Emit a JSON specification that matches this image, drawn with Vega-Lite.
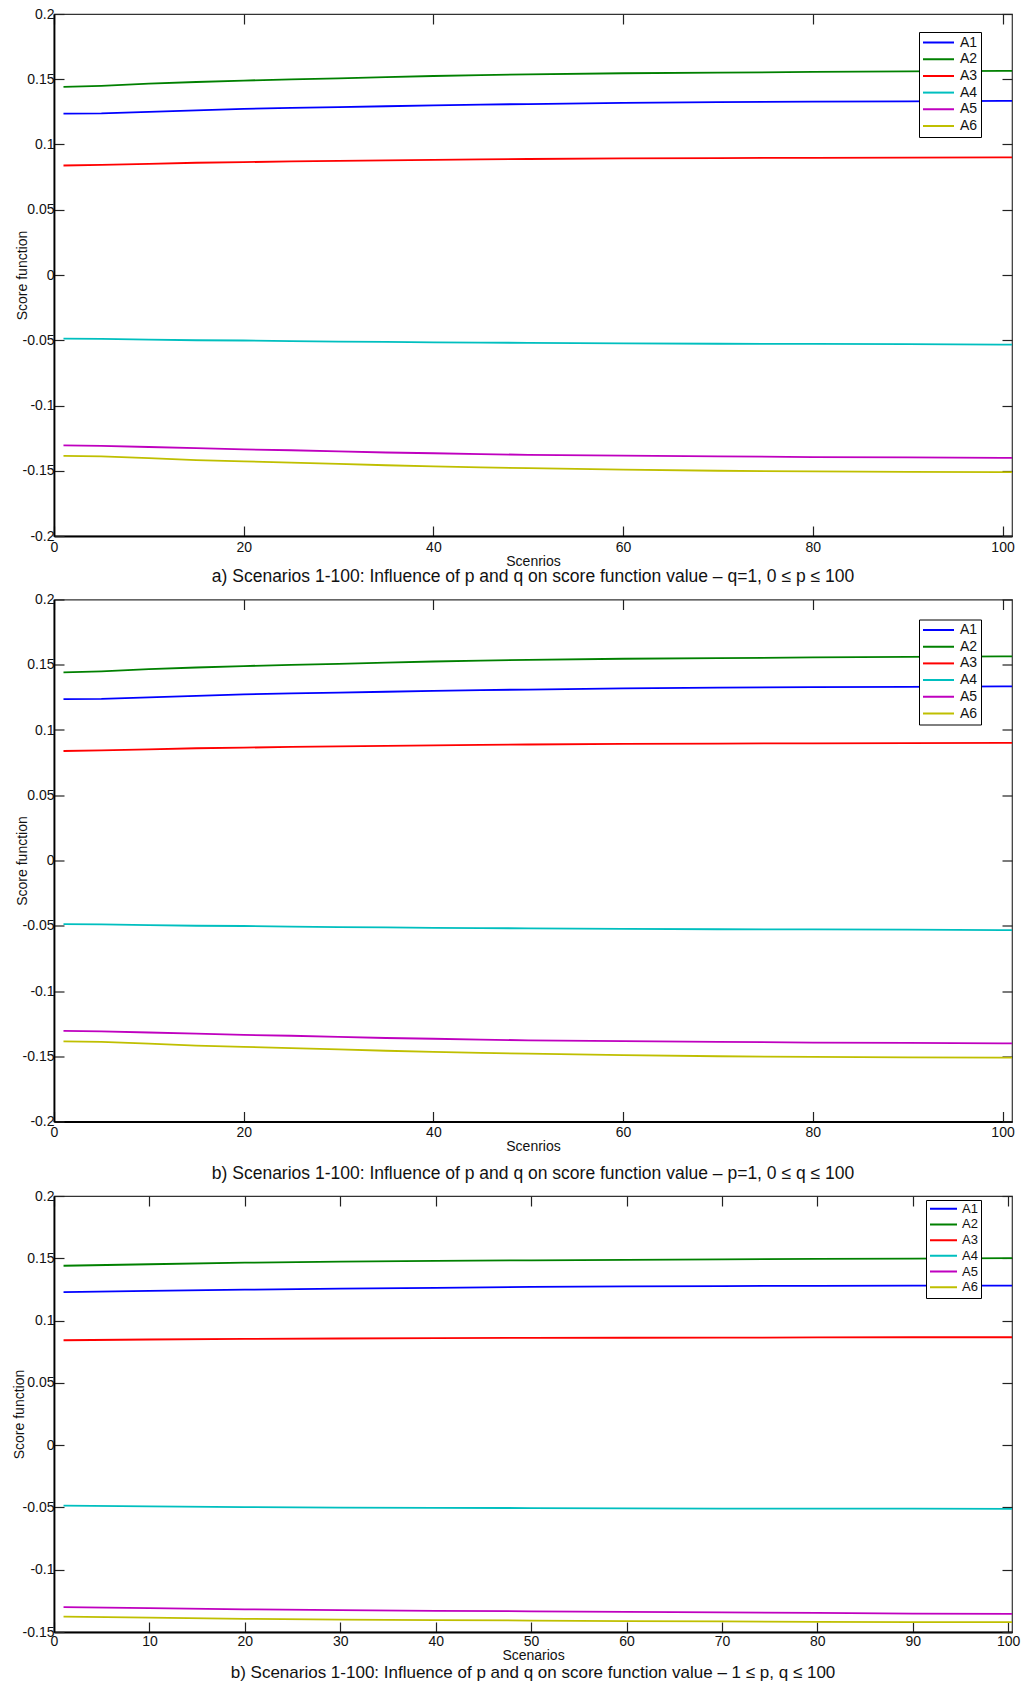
{
"$schema": "https://vega.github.io/schema/vega-lite/v6.json",
"padding": {"left": 11, "top": 6, "right": 5, "bottom": 0},
"spacing": 4.5,
"datasets": {
"ab": [
{"x":1,"s":"A1","v":0.1236},{"x":5,"s":"A1","v":0.1238},{"x":10,"s":"A1","v":0.1250},{"x":15,"s":"A1","v":0.1261},{"x":20,"s":"A1","v":0.1273},{"x":25,"s":"A1","v":0.1280},{"x":30,"s":"A1","v":0.1286},{"x":35,"s":"A1","v":0.1293},{"x":40,"s":"A1","v":0.1300},{"x":45,"s":"A1","v":0.1306},{"x":50,"s":"A1","v":0.1310},{"x":60,"s":"A1","v":0.1319},{"x":70,"s":"A1","v":0.1325},{"x":80,"s":"A1","v":0.1328},{"x":90,"s":"A1","v":0.1331},{"x":100,"s":"A1","v":0.1334},{"x":101,"s":"A1","v":0.1334},
{"x":1,"s":"A2","v":0.1441},{"x":5,"s":"A2","v":0.1449},{"x":10,"s":"A2","v":0.1466},{"x":15,"s":"A2","v":0.1479},{"x":20,"s":"A2","v":0.1490},{"x":25,"s":"A2","v":0.1499},{"x":30,"s":"A2","v":0.1507},{"x":35,"s":"A2","v":0.1517},{"x":40,"s":"A2","v":0.1525},{"x":45,"s":"A2","v":0.1532},{"x":50,"s":"A2","v":0.1538},{"x":60,"s":"A2","v":0.1546},{"x":70,"s":"A2","v":0.1551},{"x":80,"s":"A2","v":0.1556},{"x":90,"s":"A2","v":0.1560},{"x":100,"s":"A2","v":0.1564},{"x":101,"s":"A2","v":0.1564},
{"x":1,"s":"A3","v":0.0839},{"x":5,"s":"A3","v":0.0844},{"x":10,"s":"A3","v":0.0852},{"x":15,"s":"A3","v":0.0860},{"x":20,"s":"A3","v":0.0865},{"x":25,"s":"A3","v":0.0870},{"x":30,"s":"A3","v":0.0874},{"x":35,"s":"A3","v":0.0878},{"x":40,"s":"A3","v":0.0882},{"x":45,"s":"A3","v":0.0886},{"x":50,"s":"A3","v":0.0889},{"x":60,"s":"A3","v":0.0893},{"x":70,"s":"A3","v":0.0896},{"x":80,"s":"A3","v":0.0898},{"x":90,"s":"A3","v":0.0900},{"x":100,"s":"A3","v":0.0901},{"x":101,"s":"A3","v":0.0901},
{"x":1,"s":"A4","v":-0.0487},{"x":5,"s":"A4","v":-0.0489},{"x":10,"s":"A4","v":-0.0495},{"x":15,"s":"A4","v":-0.0500},{"x":20,"s":"A4","v":-0.0502},{"x":25,"s":"A4","v":-0.0506},{"x":30,"s":"A4","v":-0.0510},{"x":35,"s":"A4","v":-0.0513},{"x":40,"s":"A4","v":-0.0516},{"x":45,"s":"A4","v":-0.0518},{"x":50,"s":"A4","v":-0.0520},{"x":60,"s":"A4","v":-0.0524},{"x":70,"s":"A4","v":-0.0527},{"x":80,"s":"A4","v":-0.0528},{"x":90,"s":"A4","v":-0.0530},{"x":100,"s":"A4","v":-0.0534},{"x":101,"s":"A4","v":-0.0534},
{"x":1,"s":"A5","v":-0.1306},{"x":5,"s":"A5","v":-0.1310},{"x":10,"s":"A5","v":-0.1318},{"x":15,"s":"A5","v":-0.1327},{"x":20,"s":"A5","v":-0.1336},{"x":25,"s":"A5","v":-0.1343},{"x":30,"s":"A5","v":-0.1352},{"x":35,"s":"A5","v":-0.1360},{"x":40,"s":"A5","v":-0.1366},{"x":45,"s":"A5","v":-0.1372},{"x":50,"s":"A5","v":-0.1378},{"x":60,"s":"A5","v":-0.1384},{"x":70,"s":"A5","v":-0.1390},{"x":80,"s":"A5","v":-0.1395},{"x":90,"s":"A5","v":-0.1398},{"x":100,"s":"A5","v":-0.1402},{"x":101,"s":"A5","v":-0.1402},
{"x":1,"s":"A6","v":-0.1386},{"x":5,"s":"A6","v":-0.1390},{"x":10,"s":"A6","v":-0.1403},{"x":15,"s":"A6","v":-0.1418},{"x":20,"s":"A6","v":-0.1428},{"x":25,"s":"A6","v":-0.1438},{"x":30,"s":"A6","v":-0.1447},{"x":35,"s":"A6","v":-0.1458},{"x":40,"s":"A6","v":-0.1466},{"x":45,"s":"A6","v":-0.1474},{"x":50,"s":"A6","v":-0.1480},{"x":60,"s":"A6","v":-0.1492},{"x":70,"s":"A6","v":-0.1500},{"x":80,"s":"A6","v":-0.1505},{"x":90,"s":"A6","v":-0.1508},{"x":100,"s":"A6","v":-0.1510},{"x":101,"s":"A6","v":-0.1510}
],
"c": [
{"x":1,"s":"A1","v":0.1229},{"x":10,"s":"A1","v":0.1238},{"x":20,"s":"A1","v":0.1248},{"x":30,"s":"A1","v":0.1256},{"x":40,"s":"A1","v":0.1263},{"x":50,"s":"A1","v":0.1270},{"x":60,"s":"A1","v":0.1274},{"x":70,"s":"A1","v":0.1277},{"x":80,"s":"A1","v":0.1279},{"x":90,"s":"A1","v":0.1280},{"x":101,"s":"A1","v":0.1281},
{"x":1,"s":"A2","v":0.1440},{"x":10,"s":"A2","v":0.1452},{"x":20,"s":"A2","v":0.1465},{"x":30,"s":"A2","v":0.1473},{"x":40,"s":"A2","v":0.1480},{"x":50,"s":"A2","v":0.1484},{"x":60,"s":"A2","v":0.1488},{"x":70,"s":"A2","v":0.1492},{"x":80,"s":"A2","v":0.1495},{"x":90,"s":"A2","v":0.1498},{"x":101,"s":"A2","v":0.1502},
{"x":1,"s":"A3","v":0.0842},{"x":10,"s":"A3","v":0.0848},{"x":20,"s":"A3","v":0.0853},{"x":30,"s":"A3","v":0.0856},{"x":40,"s":"A3","v":0.0859},{"x":50,"s":"A3","v":0.0861},{"x":60,"s":"A3","v":0.0862},{"x":70,"s":"A3","v":0.0863},{"x":80,"s":"A3","v":0.0865},{"x":90,"s":"A3","v":0.0866},{"x":101,"s":"A3","v":0.0866},
{"x":1,"s":"A4","v":-0.0485},{"x":10,"s":"A4","v":-0.0492},{"x":20,"s":"A4","v":-0.0497},{"x":30,"s":"A4","v":-0.0501},{"x":40,"s":"A4","v":-0.0503},{"x":50,"s":"A4","v":-0.0505},{"x":60,"s":"A4","v":-0.0507},{"x":70,"s":"A4","v":-0.0509},{"x":80,"s":"A4","v":-0.0510},{"x":90,"s":"A4","v":-0.0510},{"x":101,"s":"A4","v":-0.0511},
{"x":1,"s":"A5","v":-0.1300},{"x":10,"s":"A5","v":-0.1309},{"x":20,"s":"A5","v":-0.1318},{"x":30,"s":"A5","v":-0.1325},{"x":40,"s":"A5","v":-0.1330},{"x":50,"s":"A5","v":-0.1334},{"x":60,"s":"A5","v":-0.1339},{"x":70,"s":"A5","v":-0.1343},{"x":80,"s":"A5","v":-0.1347},{"x":90,"s":"A5","v":-0.1352},{"x":101,"s":"A5","v":-0.1355},
{"x":1,"s":"A6","v":-0.1376},{"x":10,"s":"A6","v":-0.1385},{"x":20,"s":"A6","v":-0.1394},{"x":30,"s":"A6","v":-0.1401},{"x":40,"s":"A6","v":-0.1405},{"x":50,"s":"A6","v":-0.1408},{"x":60,"s":"A6","v":-0.1412},{"x":70,"s":"A6","v":-0.1415},{"x":80,"s":"A6","v":-0.1418},{"x":90,"s":"A6","v":-0.1420},{"x":101,"s":"A6","v":-0.1421}
]
},
"vconcat": [
{
"width": 958, "height": 522,
"data": {"name": "ab"},
"title": {"text": "a) Scenarios 1-100: Influence of p and q on score function value – q=1, 0 ≤ p ≤ 100", "orient": "bottom", "offset": 0},
"layer": [
{"mark": {"type": "line", "strokeWidth": 1.8, "clip": true},
"encoding": {
"x": {"field": "x", "type": "quantitative", "scale": {"domain": [0, 101], "nice": false, "zero": false}, "axis": {"orient": "bottom", "values": [0,20,40,60,80,100], "title": "Scenrios", "labelPadding": 14}},
"y": {"field": "v", "type": "quantitative", "scale": {"domain": [-0.2, 0.2], "nice": false}, "axis": {"orient": "left", "values": [-0.2,-0.15,-0.1,-0.05,0,0.05,0.1,0.15,0.2], "title": "Score function", "titleFontSize": 14, "titlePadding": -7, "labelExpr": "replace(format(datum.value, '~f'), '−', '-')"}},
"color": {"field": "s", "type": "nominal", "scale": {"domain": ["A1","A2","A3","A4","A5","A6"], "range": ["#0000FF","#008000","#FF0000","#00BFBF","#BF00BF","#BFBF00"]}, "legend": {"orient": "none", "legendX": 865, "legendY": 18}}
}},
{"mark": {"type": "point", "opacity": 0},
"encoding": {
"x": {"field": "x", "type": "quantitative", "axis": {"orient": "top", "values": [0,20,40,60,80,100], "labels": false, "title": null, "domain": false}},
"y": {"field": "v", "type": "quantitative", "axis": {"orient": "right", "values": [-0.2,-0.15,-0.1,-0.05,0,0.05,0.1,0.15,0.2], "labels": false, "title": null, "domain": false}}
}}
],
"resolve": {"axis": {"x": "independent", "y": "independent"}}
},
{
"width": 958, "height": 522,
"data": {"name": "ab"},
"title": {"text": "b) Scenarios 1-100: Influence of p and q on score function value – p=1, 0 ≤ q ≤ 100", "orient": "bottom", "offset": 11},
"layer": [
{"mark": {"type": "line", "strokeWidth": 1.8, "clip": true},
"encoding": {
"x": {"field": "x", "type": "quantitative", "scale": {"domain": [0, 101], "nice": false, "zero": false}, "axis": {"orient": "bottom", "values": [0,20,40,60,80,100], "title": "Scenrios", "labelPadding": 14}},
"y": {"field": "v", "type": "quantitative", "scale": {"domain": [-0.2, 0.2], "nice": false}, "axis": {"orient": "left", "values": [-0.2,-0.15,-0.1,-0.05,0,0.05,0.1,0.15,0.2], "title": "Score function", "titleFontSize": 14, "titlePadding": -7, "labelExpr": "replace(format(datum.value, '~f'), '−', '-')"}},
"color": {"field": "s", "type": "nominal", "scale": {"domain": ["A1","A2","A3","A4","A5","A6"], "range": ["#0000FF","#008000","#FF0000","#00BFBF","#BF00BF","#BFBF00"]}, "legend": {"orient": "none", "legendX": 865, "legendY": 20}}
}},
{"mark": {"type": "point", "opacity": 0},
"encoding": {
"x": {"field": "x", "type": "quantitative", "axis": {"orient": "top", "values": [0,20,40,60,80,100], "labels": false, "title": null, "domain": false}},
"y": {"field": "v", "type": "quantitative", "axis": {"orient": "right", "values": [-0.2,-0.15,-0.1,-0.05,0,0.05,0.1,0.15,0.2], "labels": false, "title": null, "domain": false}}
}}
],
"resolve": {"axis": {"x": "independent", "y": "independent"}}
},
{
"width": 958, "height": 436,
"data": {"name": "c"},
"title": {"text": "b) Scenarios 1-100: Influence of p and q on score function value – 1 ≤ p, q ≤ 100", "orient": "bottom", "offset": 3, "fontSize": 17},
"layer": [
{"mark": {"type": "line", "strokeWidth": 1.8, "clip": true},
"encoding": {
"x": {"field": "x", "type": "quantitative", "scale": {"domain": [0, 100.4], "nice": false, "zero": false}, "axis": {"orient": "bottom", "values": [0,10,20,30,40,50,60,70,80,90,100], "title": "Scenarios", "labelPadding": 12}},
"y": {"field": "v", "type": "quantitative", "scale": {"domain": [-0.15, 0.2], "nice": false}, "axis": {"orient": "left", "values": [-0.15,-0.1,-0.05,0,0.05,0.1,0.15,0.2], "title": "Score function", "titleFontSize": 14, "titlePadding": -4, "labelExpr": "replace(format(datum.value, '~f'), '−', '-')"}},
"color": {"field": "s", "type": "nominal", "scale": {"domain": ["A1","A2","A3","A4","A5","A6"], "range": ["#0000FF","#008000","#FF0000","#00BFBF","#BF00BF","#BFBF00"]}, "legend": {"orient": "none", "legendX": 872, "legendY": 4, "symbolSize": 729, "clipHeight": 11.5, "labelOffset": 4, "labelFontSize": 13}}
}},
{"mark": {"type": "point", "opacity": 0},
"encoding": {
"x": {"field": "x", "type": "quantitative", "axis": {"orient": "top", "values": [0,10,20,30,40,50,60,70,80,90,100], "labels": false, "title": null, "domain": false}},
"y": {"field": "v", "type": "quantitative", "axis": {"orient": "right", "values": [-0.15,-0.1,-0.05,0,0.05,0.1,0.15,0.2], "labels": false, "title": null, "domain": false}}
}}
],
"resolve": {"axis": {"x": "independent", "y": "independent"}}
}
],
"resolve": {"scale": {"color": "independent"}, "legend": {"color": "independent"}},
"config": {
"font": "Liberation Sans",
"view": {"stroke": "#333333", "strokeWidth": 1.2},
"axis": {"grid": false, "domainColor": "#000000", "domainWidth": 1.8, "tickColor": "#222222", "tickWidth": 1.2, "tickSize": -10, "labelPadding": 10, "labelFontSize": 14, "labelColor": "#111111", "labelFlush": false, "labelOverlap": false, "titleFontSize": 14, "titleFontWeight": "normal", "titleColor": "#111111", "titlePadding": 0},
"title": {"fontSize": 17.5, "fontWeight": "normal", "color": "#111111"},
"legend": {"title": null, "strokeColor": "#000000", "fillColor": "#ffffff", "padding": 3, "symbolType": "stroke", "symbolSize": 961, "symbolStrokeWidth": 2, "clipHeight": 15, "rowPadding": 1.7, "labelFontSize": 14, "labelColor": "#111111", "labelOffset": 5}
}
}
